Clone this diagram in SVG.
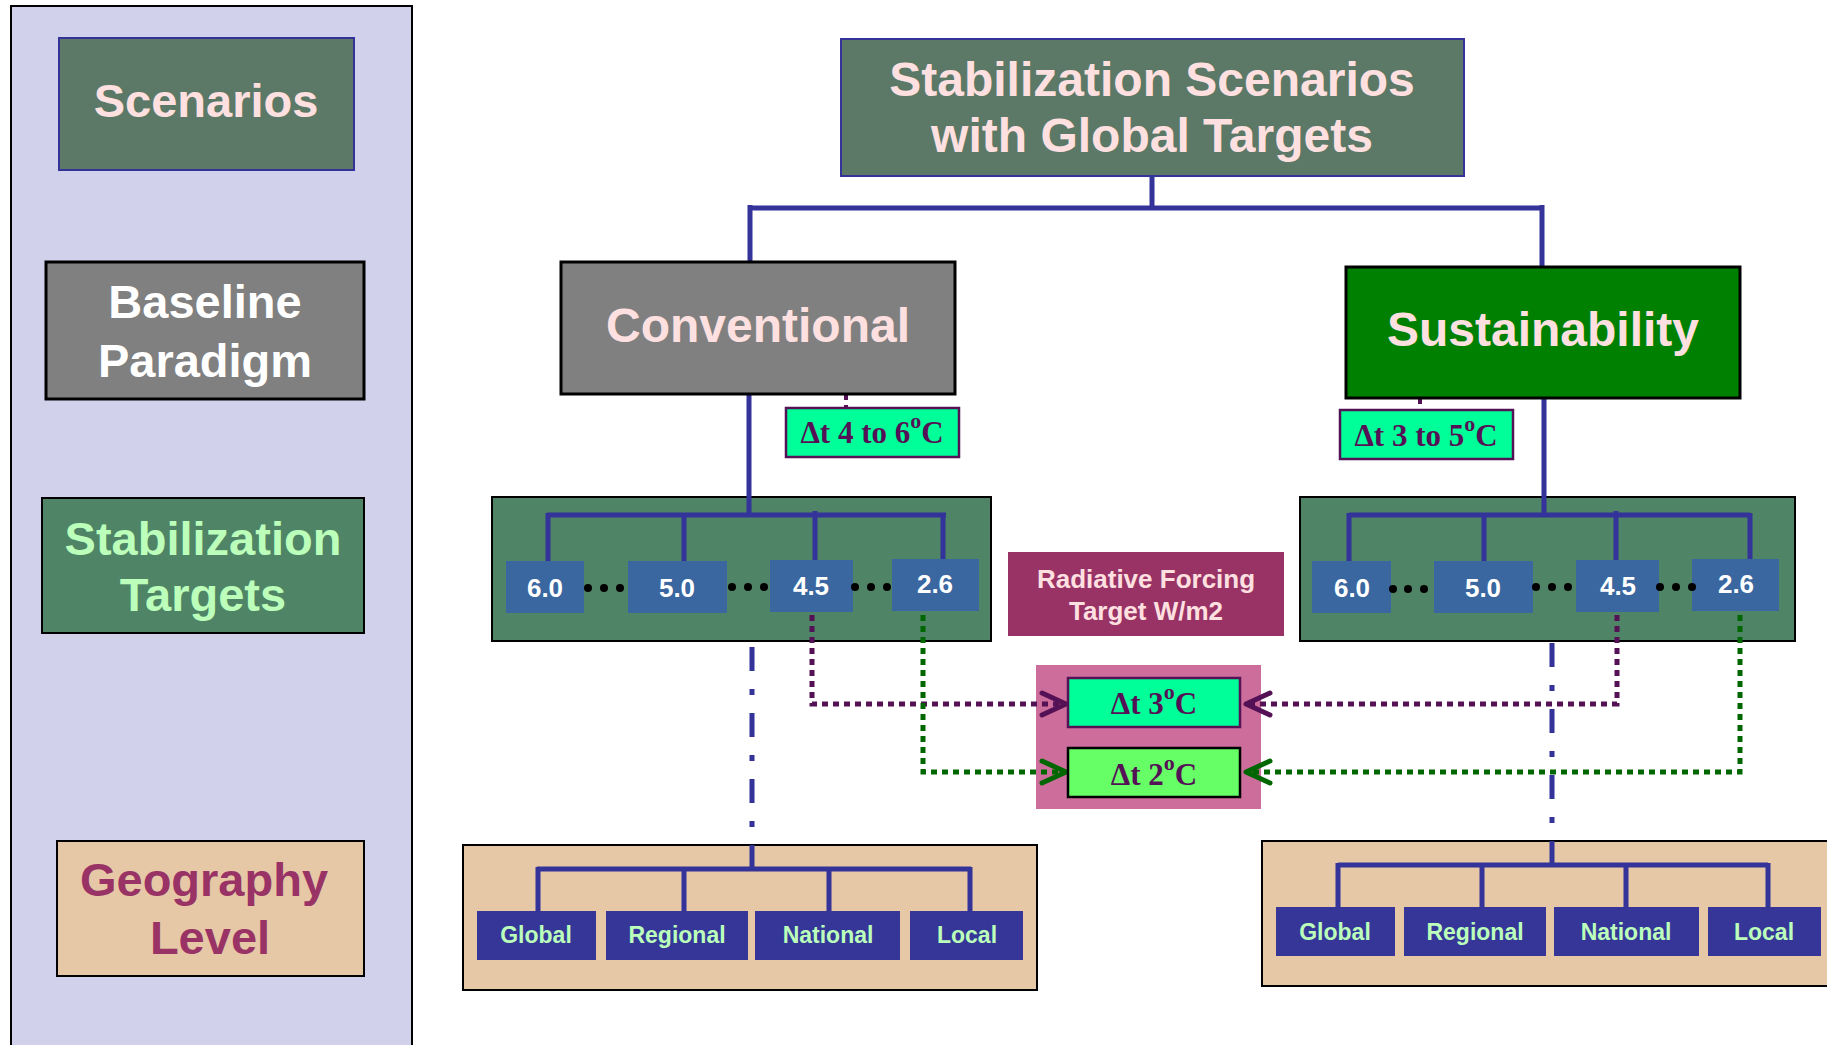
<svg xmlns="http://www.w3.org/2000/svg" width="1827" height="1045" viewBox="0 0 1827 1045">
<style>
.sans{font-family:"Liberation Sans",Arial,sans-serif;font-weight:bold;text-anchor:middle}
.serif{font-family:"Liberation Serif","Times New Roman",serif;font-weight:bold;text-anchor:middle;fill:#551155}
.big{font-size:47px}
.pink{fill:#FFE0E0}
.lgreen{fill:#BBFFBB}
.num{font-size:26px;fill:#FFFFFF}
.geo{font-size:23px;fill:#BBFFBB}
.slate{fill:#5C7866;stroke:#333399;stroke-width:2}
.grey{fill:#808080;stroke:#000;stroke-width:3}
.tgt{fill:#4F8466;stroke:#000;stroke-width:2}
.tan{fill:#E6C8A6;stroke:#000;stroke-width:2}
.nb{fill:#3A67A0}
.gb{fill:#363699}
.dt{fill:#00FF99;stroke:#551155;stroke-width:2.5}
.solid{fill:none;stroke:#333399;stroke-width:5}
.dashdot{fill:none;stroke:#333399;stroke-width:5;stroke-dasharray:24 18 6 18}
.pdot{fill:none;stroke:#551155;stroke-width:5;stroke-dasharray:6 5}
.gdot{fill:none;stroke:#006600;stroke-width:5;stroke-dasharray:6 5}
.pdash{fill:none;stroke:#551155;stroke-width:4;stroke-dasharray:6 5}
</style>
<defs>
<marker id="arrP" markerUnits="userSpaceOnUse" markerWidth="30" markerHeight="28" viewBox="0 0 30 28" refX="27" refY="14" orient="auto">
<path d="M3,3 L27,14 L3,25" fill="none" stroke="#551155" stroke-width="5" stroke-linecap="round" stroke-linejoin="round"/>
</marker>
<marker id="arrG" markerUnits="userSpaceOnUse" markerWidth="30" markerHeight="28" viewBox="0 0 30 28" refX="27" refY="14" orient="auto">
<path d="M3,3 L27,14 L3,25" fill="none" stroke="#006600" stroke-width="5" stroke-linecap="round" stroke-linejoin="round"/>
</marker>
</defs>
<rect width="1827" height="1045" fill="#FFFFFF"/>

<g id="legend-panel">
<rect x="11" y="6" width="401" height="1050" fill="#D1D1EC" stroke="#000" stroke-width="2"/>
</g>
<g id="legend-scenarios">
<rect class="slate" x="59" y="38" width="295" height="132"/>
<text class="sans big pink" x="206" y="117">Scenarios</text>
</g>
<g id="legend-baseline">
<rect class="grey" x="46" y="262" width="318" height="137"/>
<text class="sans big" fill="#FFFFFF" x="205" y="318">Baseline</text>
<text class="sans big" fill="#FFFFFF" x="205" y="377">Paradigm</text>
</g>
<g id="legend-stabilization">
<rect class="tgt" x="42" y="498" width="322" height="135"/>
<text class="sans big lgreen" x="203" y="555">Stabilization</text>
<text class="sans big lgreen" x="203" y="611">Targets</text>
</g>
<g id="legend-geography">
<rect class="tan" x="57" y="841" width="307" height="135"/>
<text class="sans big" fill="#993366" x="204" y="896">Geography</text>
<text class="sans big" fill="#993366" x="210" y="954">Level</text>
</g>

<g id="targets-conv">
<rect class="tgt" x="492" y="497" width="499" height="144"/>
</g>
<g id="targets-sust">
<rect class="tgt" x="1300" y="497" width="495" height="144"/>
</g>
<g id="temp-panel">
<rect x="1036" y="665" width="225" height="144" fill="#CC6D9B"/>
</g>
<g id="geo-conv">
<rect class="tan" x="463" y="845" width="574" height="145"/>
</g>
<g id="geo-sust">
<rect class="tan" x="1262" y="841" width="580" height="145"/>
</g>

<g id="connectors">
<path class="solid" stroke-width="6" d="M1152,176 V208 M750,208 H1542 M750,205 V262 M1542,205 V267"/>
<path class="solid" d="M749,394 V515 M547,515 H946 M548,513 V561 M684,515 V561 M815,511 V561 M943,513 V561"/>
<path class="solid" d="M1544,398 V515 M1349,515 H1750 M1349,513 V561 M1484,515 V561 M1616,511 V561 M1750,513 V561"/>
<path class="dashdot" d="M752,647 V845"/>
<path class="dashdot" d="M1552,643 V841"/>
<path class="solid" d="M752,845 V869 M537,869 H971 M538,867 V911 M684,869 V911 M829,869 V911 M970,867 V911"/>
<path class="solid" d="M1552,841 V865 M1338,865 H1768 M1338,863 V907 M1482,865 V907 M1626,865 V907 M1768,863 V907"/>
<path class="pdash" d="M846,394 V408"/>
<path class="pdash" d="M1420,398 V410"/>
<path class="pdot" d="M812,615 V704 H1066" marker-end="url(#arrP)"/>
<path class="gdot" d="M923,615 V772 H1066" marker-end="url(#arrG)"/>
<path class="pdot" d="M1617,615 V704 H1246" marker-end="url(#arrP)"/>
<path class="gdot" d="M1740,615 V772 H1246" marker-end="url(#arrG)"/>
</g>

<g id="top">
<rect class="slate" x="841" y="39" width="623" height="137"/>
<text class="sans pink" font-size="48" x="1152" y="96">Stabilization Scenarios</text>
<text class="sans pink" font-size="48" x="1152" y="152">with Global Targets</text>
</g>
<g id="conventional">
<rect class="grey" x="561" y="262" width="394" height="132"/>
<text class="sans pink" font-size="48" x="758" y="342">Conventional</text>
</g>
<g id="sustainability">
<rect x="1346" y="267" width="394" height="131" fill="#008000" stroke="#000" stroke-width="3"/>
<text class="sans pink" font-size="48" x="1543" y="346">Sustainability</text>
</g>
<g id="dt-conv">
<rect class="dt" x="786" y="408" width="173" height="49"/>
<text class="serif" font-size="31" x="872" y="443">Δt 4 to 6<tspan font-size="22" dy="-15">o</tspan><tspan dy="15">C</tspan></text>
</g>
<g id="dt-sust">
<rect class="dt" x="1340" y="410" width="173" height="49"/>
<text class="serif" font-size="31" x="1426" y="446">Δt 3 to 5<tspan font-size="22" dy="-15">o</tspan><tspan dy="15">C</tspan></text>
</g>

<g id="c60"><rect class="nb" x="506" y="561" width="78" height="52"/><text class="sans num" x="545" y="597">6.0</text></g>
<g id="c50"><rect class="nb" x="628" y="561" width="99" height="52"/><text class="sans num" x="677" y="597">5.0</text></g>
<g id="c45"><rect class="nb" x="770" y="560" width="83" height="52"/><text class="sans num" x="811" y="595">4.5</text></g>
<g id="c26"><rect class="nb" x="892" y="559" width="87" height="52"/><text class="sans num" x="935" y="593">2.6</text></g>
<g id="c-dots">
<circle cx="588" cy="588" r="4"/><circle cx="604" cy="588" r="4"/><circle cx="620" cy="588" r="4"/>
<circle cx="732" cy="587" r="4"/><circle cx="748" cy="587" r="4"/><circle cx="764" cy="587" r="4"/>
<circle cx="855" cy="587" r="4"/><circle cx="871" cy="587" r="4"/><circle cx="887" cy="587" r="4"/>
</g>

<g id="s60"><rect class="nb" x="1312" y="561" width="79" height="52"/><text class="sans num" x="1352" y="597">6.0</text></g>
<g id="s50"><rect class="nb" x="1434" y="561" width="99" height="52"/><text class="sans num" x="1483" y="597">5.0</text></g>
<g id="s45"><rect class="nb" x="1576" y="560" width="83" height="52"/><text class="sans num" x="1618" y="595">4.5</text></g>
<g id="s26"><rect class="nb" x="1692" y="559" width="87" height="52"/><text class="sans num" x="1736" y="593">2.6</text></g>
<g id="s-dots">
<circle cx="1393" cy="589" r="4"/><circle cx="1408" cy="589" r="4"/><circle cx="1424" cy="589" r="4"/>
<circle cx="1536" cy="587" r="4"/><circle cx="1552" cy="587" r="4"/><circle cx="1568" cy="587" r="4"/>
<circle cx="1660" cy="587" r="4"/><circle cx="1676" cy="587" r="4"/><circle cx="1692" cy="587" r="4"/>
</g>

<g id="radiative">
<rect x="1008" y="552" width="276" height="84" fill="#993366"/>
<text class="sans pink" font-size="26" x="1146" y="588">Radiative Forcing</text>
<text class="sans pink" font-size="26" x="1146" y="620">Target W/m2</text>
</g>
<g id="dt3">
<rect class="dt" x="1068" y="678" width="172" height="49"/>
<text class="serif" font-size="31" x="1154" y="714">Δt 3<tspan font-size="22" dy="-15">o</tspan><tspan dy="15">C</tspan></text>
</g>
<g id="dt2">
<rect x="1068" y="748" width="172" height="49" fill="#66FF66" stroke="#000" stroke-width="2.5"/>
<text class="serif" font-size="31" x="1154" y="785">Δt 2<tspan font-size="22" dy="-15">o</tspan><tspan dy="15">C</tspan></text>
</g>

<g id="cg-global"><rect class="gb" x="477" y="911" width="119" height="49"/><text class="sans geo" x="536" y="943">Global</text></g>
<g id="cg-regional"><rect class="gb" x="606" y="911" width="142" height="49"/><text class="sans geo" x="677" y="943">Regional</text></g>
<g id="cg-national"><rect class="gb" x="755" y="911" width="145" height="49"/><text class="sans geo" x="828" y="943">National</text></g>
<g id="cg-local"><rect class="gb" x="910" y="911" width="113" height="49"/><text class="sans geo" x="967" y="943">Local</text></g>

<g id="sg-global"><rect class="gb" x="1276" y="907" width="119" height="49"/><text class="sans geo" x="1335" y="940">Global</text></g>
<g id="sg-regional"><rect class="gb" x="1404" y="907" width="142" height="49"/><text class="sans geo" x="1475" y="940">Regional</text></g>
<g id="sg-national"><rect class="gb" x="1554" y="907" width="145" height="49"/><text class="sans geo" x="1626" y="940">National</text></g>
<g id="sg-local"><rect class="gb" x="1708" y="907" width="113" height="49"/><text class="sans geo" x="1764" y="940">Local</text></g>
</svg>
